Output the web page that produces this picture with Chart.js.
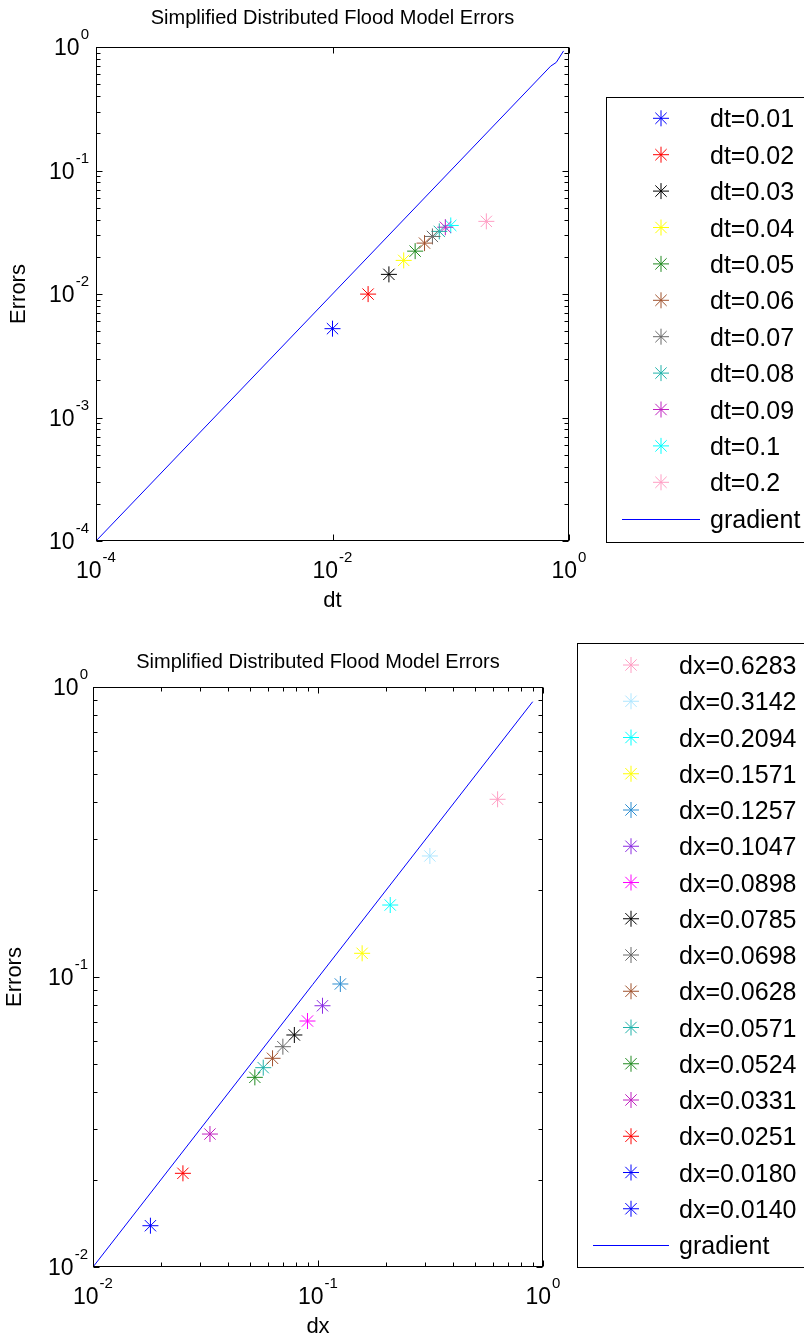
<!DOCTYPE html>
<html lang="en">
<head>
<meta charset="utf-8">
<title>Simplified Distributed Flood Model Errors</title>
<script src="https://cdn.jsdelivr.net/npm/chart.js@4.4.1/dist/chart.umd.min.js"></script>
<style>
    body {
        margin: 0;
        background: #fff;
        width: 804px;
        height: 1342px;
        overflow: hidden;
        position: relative;
    }

    canvas {
        position: absolute;
        left: 0;
    }

    #dtChart { top: 0; }
    #dxChart { top: 620px; }
</style>
</head>
<body>
<canvas id="dtChart" width="804" height="620"></canvas>
<canvas id="dxChart" width="804" height="722"></canvas>

<script>
    // ---- top chart: time step ----
    var dtValues = [0.01, 0.02, 0.03, 0.04, 0.05, 0.06, 0.07, 0.08, 0.09, 0.1, 0.2];
    var dtErrors = [0.00524, 0.00998, 0.01442, 0.01871, 0.02223, 0.02582, 0.02924, 0.03214, 0.03475, 0.03589, 0.03874];
    var dtColors = ['#0000ff', '#ff0000', '#000000', '#ffff00', '#228b22', '#a0522d', '#696969', '#20b2aa', '#c020c0', '#00ffff', '#ff9ec4'];
    var dtGradX = [1e-4, 0.70, 0.78, 0.90];
    var dtGradY = [1e-4, 0.70, 0.75, 0.93];
    var dtXTicks = [1e-4, 1e-2, 1];
    var dtYTicks = [1e-4, 1e-3, 1e-2, 1e-1, 1];

    // ---- bottom chart: space step ----
    var dxValues = [0.6283, 0.3142, 0.2094, 0.1571, 0.1257, 0.1047, 0.0898, 0.0785, 0.0698, 0.0628, 0.0571, 0.0524, 0.0331, 0.0251, 0.0180, 0.0140];
    // dx=0.0140 has no visible point on the plot
    var dxErrors = [0.410, 0.2614, 0.1771, 0.1207, 0.0946, 0.0796, 0.0705, 0.0631, 0.0575, 0.05244, 0.04868, 0.04508, 0.02874, 0.02104, 0.01388, null];
    var dxColors = ['#ff9ec4', '#aee6ff', '#00ffff', '#ffff00', '#2b8cd0', '#8a2be2', '#ff00ff', '#000000', '#696969', '#a0522d', '#20b2aa', '#228b22', '#c020c0', '#ff0000', '#0000ff', '#0000ff'];
    var dxGradX = [0.01, 0.9];
    var dxGradY = [0.01, 0.89];
    var dxXTicks = [1e-2, 1e-1, 1];
    var dxYTicks = [1e-2, 1e-1, 1];

    const FONT = '"Liberation Sans", Arial, Helvetica, sans-serif';

    let minorValues = (lo, hi) => {
        let out = [];
        for (let e = Math.round(Math.log10(lo)); e < Math.round(Math.log10(hi)); e++) {
            for (let m = 2; m < 10; m++) out.push(m * Math.pow(10, e));
        }
        return out;
    };

    // draws "10" with a raised exponent
    let powLabel = (ctx, v, x, y, align) => {
        let exp = String(Math.round(Math.log10(v)));
        ctx.font = '23px ' + FONT;
        let wb = ctx.measureText('10').width;
        ctx.font = '15px ' + FONT;
        let we = ctx.measureText(exp).width;
        let w = wb + 1 + we;
        let x0 = align === 'center' ? x - w / 2 : x - w;
        ctx.textAlign = 'left';
        ctx.textBaseline = 'alphabetic';
        ctx.font = '23px ' + FONT;
        ctx.fillText('10', x0, y);
        ctx.font = '15px ' + FONT;
        ctx.fillText(exp, x0 + wb + 1, y - 16);
    };

    const matlabAxes = {
        id: 'matlabAxes',
        afterDraw(chart, args, o) {
            const ctx = chart.ctx;
            const a = chart.chartArea;
            const xs = chart.scales.x, ys = chart.scales.y;
            const L = Math.round(a.left) + 0.5, R = Math.round(a.right) - 0.5;
            const T = Math.round(a.top) + 0.5, B = Math.round(a.bottom) - 0.5;

            ctx.save();
            ctx.strokeStyle = '#000';
            ctx.fillStyle = '#000';
            ctx.lineWidth = 1;

            // inward ticks on all four sides
            let xMarks = o.xTicks.map(v => [v, 6]);
            if (o.xMinor) xMarks = xMarks.concat(minorValues(xs.min, xs.max).map(v => [v, 4]));
            let yMarks = o.yTicks.map(v => [v, 6]);
            if (o.yMinor) yMarks = yMarks.concat(minorValues(ys.min, ys.max).map(v => [v, 4]));

            ctx.beginPath();
            xMarks.forEach(([v, len]) => {
                let px = Math.round(xs.getPixelForValue(v)) + 0.5;
                ctx.moveTo(px, B); ctx.lineTo(px, B - len);
                ctx.moveTo(px, T); ctx.lineTo(px, T + len);
            });
            yMarks.forEach(([v, len]) => {
                let py = Math.round(ys.getPixelForValue(v)) + 0.5;
                ctx.moveTo(L, py); ctx.lineTo(L + len, py);
                ctx.moveTo(R, py); ctx.lineTo(R - len, py);
            });
            ctx.stroke();
            ctx.strokeRect(L, T, R - L, B - T);

            // tick labels
            o.xTicks.forEach(v => powLabel(ctx, v, xs.getPixelForValue(v), a.bottom + 37, 'center'));
            o.yTicks.forEach(v => powLabel(ctx, v, a.left - o.yLabelGap, ys.getPixelForValue(v) + 8, 'right'));

            // title and axis labels
            ctx.textAlign = 'center';
            ctx.textBaseline = 'middle';
            ctx.font = '20px ' + FONT;
            ctx.fillText(o.title, (a.left + a.right) / 2, a.top - o.titleGap);
            ctx.font = '22px ' + FONT;
            ctx.fillText(o.xLabel, (a.left + a.right) / 2, a.bottom + 60);
            ctx.translate(o.yLabelX, (a.top + a.bottom) / 2);
            ctx.rotate(-Math.PI / 2);
            ctx.fillText(o.yLabel, 0, 0);
            ctx.restore();
        }
    };

    const boxLegend = {
        id: 'boxLegend',
        afterDraw(chart, args, o) {
            const ctx = chart.ctx;
            ctx.save();
            ctx.fillStyle = '#fff';
            ctx.fillRect(o.left, o.top, 900, o.bottom - o.top);
            ctx.strokeStyle = '#000';
            ctx.lineWidth = 1;
            ctx.strokeRect(o.left + 0.5, o.top + 0.5, 900, o.bottom - o.top);

            chart.data.datasets.forEach((ds, i) => {
                let y = o.rowY0 + i * o.rowGap;
                ctx.strokeStyle = ds.borderColor;
                ctx.fillStyle = ds.borderColor;
                if (ds.showLine) {
                    ctx.lineWidth = 1;
                    ctx.beginPath();
                    ctx.moveTo(o.lineX0, Math.round(y) + 0.5);
                    ctx.lineTo(o.lineX1, Math.round(y) + 0.5);
                    ctx.stroke();
                } else {
                    Chart.helpers.drawPoint(ctx, { pointStyle: 'star', radius: 8, borderWidth: 1, rotation: 0 }, o.markerX, y);
                }
                ctx.fillStyle = '#000';
                ctx.font = '25px ' + FONT;
                ctx.textAlign = 'left';
                ctx.textBaseline = 'alphabetic';
                ctx.fillText(ds.label, o.textX, y + 9);
            });
            ctx.restore();
        }
    };

    let starSet = (label, x, y, color) => ({
        label: label,
        data: y === null ? [] : [{ x: x, y: y }],
        borderColor: color,
        backgroundColor: color,
        pointStyle: 'star',
        pointRadius: 8,
        pointHoverRadius: 8,
        pointBorderWidth: 1,
        showLine: false
    });

    let gradientSet = (xs, ys) => ({
        label: 'gradient',
        data: xs.map((x, i) => ({ x: x, y: ys[i] })),
        borderColor: '#0000ff',
        backgroundColor: '#0000ff',
        borderWidth: 1,
        pointRadius: 0,
        showLine: true
    });

    let makeChart = (id, datasets, xMin, yMin, padding, axes, legend) => new Chart(document.getElementById(id), {
        type: 'scatter',
        data: { datasets: datasets },
        options: {
            responsive: false,
            animation: false,
            devicePixelRatio: 1,
            layout: { padding: padding },
            scales: {
                x: { type: 'logarithmic', min: xMin, max: 1, display: false },
                y: { type: 'logarithmic', min: yMin, max: 1, display: false }
            },
            plugins: {
                legend: { display: false },
                tooltip: { enabled: false },
                matlabAxes: axes,
                boxLegend: legend
            }
        },
        plugins: [matlabAxes, boxLegend]
    });

    let dtSets = dtValues.map((v, i) => starSet('dt=' + v, v, dtErrors[i], dtColors[i]));
    dtSets.push(gradientSet(dtGradX, dtGradY));

    let dxSets = dxValues.map((v, i) => starSet('dx=' + v.toFixed(4), v, dxErrors[i], dxColors[i]));
    dxSets.push(gradientSet(dxGradX, dxGradY));

    makeChart('dtChart', dtSets, 1e-4, 1e-4,
        { left: 96, right: 235, top: 47, bottom: 79 },
        { xTicks: dtXTicks, yTicks: dtYTicks, xMinor: false, yMinor: true, yLabelGap: 7,
          title: 'Simplified Distributed Flood Model Errors', titleGap: 29, xLabel: 'dt', yLabel: 'Errors', yLabelX: 19 },
        { left: 606, top: 97, bottom: 542, rowY0: 118.3, rowGap: 36.4, markerX: 661, textX: 710, lineX0: 622, lineX1: 700 });

    makeChart('dxChart', dxSets, 1e-2, 1e-2,
        { left: 93, right: 261, top: 67, bottom: 75 },
        { xTicks: dxXTicks, yTicks: dxYTicks, xMinor: true, yMinor: true, yLabelGap: 5,
          title: 'Simplified Distributed Flood Model Errors', titleGap: 25, xLabel: 'dx', yLabel: 'Errors', yLabelX: 15 },
        { left: 577, top: 23, bottom: 647, rowY0: 45, rowGap: 36.25, markerX: 631, textX: 679, lineX0: 593, lineX1: 669 });
</script>
</body>
</html>
